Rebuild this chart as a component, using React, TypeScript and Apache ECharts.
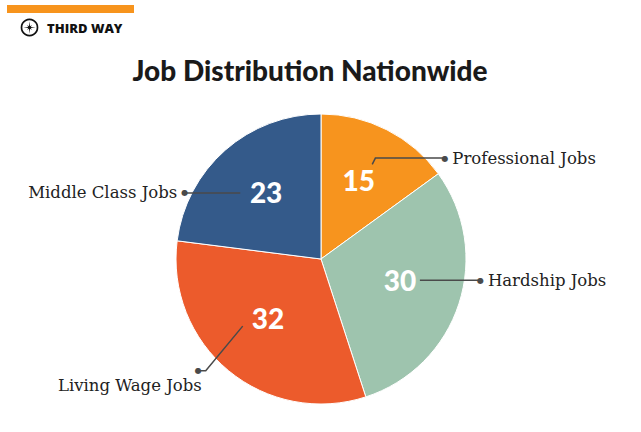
import React, { useEffect, useRef } from 'react';
import * as echarts from 'echarts';

const categories = ['Professional Jobs', 'Hardship Jobs', 'Living Wage Jobs', 'Middle Class Jobs'];
const values = [15, 30, 32, 23];
const sliceColors = ['#F7941E', '#9EC4AE', '#EC5B2C', '#345A8A'];
const titleText = 'Job Distribution Nationwide';
const brandText = 'THIRD WAY';

// leader-line styling per slice (layout only)
const leaderStyle = [
  { length: 7, length2: 69, shiftX: 4, shiftY: -2, side: 'right' },
  { length: 0, length2: 60, shiftX: 0, shiftY: -11, side: 'right' },
  { length: 58, length2: 8, shiftX: -12, shiftY: -13, side: 'below' },
  { length: 0, length2: 55, shiftX: -12, shiftY: 12, side: 'left' },
];

const CENTER = [321, 259];
const LINE_COLOR = '#4a4a4a';

export default function App() {
  const ref = useRef<HTMLDivElement>(null);

  useEffect(() => {
    document.body.style.margin = '0';
    if (!ref.current) return;
    const chart = echarts.init(ref.current, null, { renderer: 'svg' });

    const baseData = categories.map((name, i) => ({ name, value: values[i] }));

    const option: any = {
      animation: false,
      backgroundColor: '#ffffff',
      graphic: [
        { type: 'rect', shape: { x: 7, y: 5, width: 127, height: 8 }, style: { fill: '#F7941D' } },
        { type: 'circle', shape: { cx: 29.5, cy: 27.5, r: 8 }, style: { fill: 'none', stroke: '#111', lineWidth: 1.7 } },
        {
          type: 'polygon',
          shape: {
            points: (() => {
              const pts: number[][] = [];
              for (let k = 0; k < 16; k++) {
                const a = (k * Math.PI) / 8 - Math.PI / 2;
                const r = k % 4 === 0 ? 6.2 : k % 2 === 0 ? 3.4 : 1.4;
                pts.push([29.5 + r * Math.cos(a), 27.5 + r * Math.sin(a)]);
              }
              return pts;
            })(),
          },
          style: { fill: '#111' },
        },
        {
          type: 'text',
          x: 47,
          y: 28,
          style: {
            text: brandText,
            fontFamily: 'Open Sans',
            fontWeight: 800,
            fontSize: 13,
            fill: '#111',
            verticalAlign: 'middle',
          },
        },
        {
          type: 'text',
          x: 310,
          y: 70,
          style: {
            text: titleText,
            fontFamily: 'Lato',
            fontWeight: 900,
            fontSize: 28,
            fill: '#1a1a1a',
            align: 'center',
            verticalAlign: 'middle',
          },
        },
      ],
      series: [
        {
          type: 'pie',
          z: 1,
          center: CENTER,
          radius: 145,
          startAngle: 90,
          clockwise: true,
          silent: true,
          label: { show: false },
          labelLine: { show: false },
          itemStyle: { borderColor: '#ffffff', borderWidth: 1 },
          data: baseData.map((d, i) => ({ ...d, itemStyle: { color: sliceColors[i] } })),
        },
        {
          type: 'pie',
          z: 4,
          center: CENTER,
          radius: [0, 160],
          startAngle: 90,
          clockwise: true,
          silent: true,
          itemStyle: { color: 'rgba(0,0,0,0)', borderWidth: 0 },
          label: {
            show: true,
            position: 'inside',
            formatter: '{c}',
            color: '#ffffff',
            fontFamily: 'Lato',
            fontWeight: 900,
            fontSize: 28,
          },
          labelLayout: (p: any) => {
            const r = p.labelRect;
            if (!r) return {};
            return { y: r.y + r.height / 2 - 5, verticalAlign: 'middle' };
          },
          labelLine: { show: false },
          data: baseData,
        },
        {
          type: 'pie',
          z: 5,
          center: CENTER,
          radius: 104,
          startAngle: 90,
          clockwise: true,
          silent: true,
          avoidLabelOverlap: false,
          itemStyle: { color: 'rgba(0,0,0,0)', borderWidth: 0 },
          label: {
            show: true,
            position: 'outside',
            formatter: (p: any) => {
              const side = leaderStyle[p.dataIndex].side;
              if (side === 'right') return `{dot|●}{gap| }{name|${p.name}}`;
              if (side === 'left') return `{name|${p.name}}{gap| }{dot|●}`;
              return `{dot|●}\n{name|${p.name}}`;
            },
            rich: {
              dot: { fontFamily: 'DejaVu Sans', fontSize: 8, color: LINE_COLOR, lineHeight: 10 },
              gap: { fontSize: 4, width: 4 },
              name: { fontFamily: 'DejaVu Serif', fontSize: 16.5, color: '#222', lineHeight: 20 },
            },
          },
          labelLine: { show: true, smooth: false, lineStyle: { color: LINE_COLOR, width: 1.5 } },
          labelLayout: (p: any) => {
            const s = leaderStyle[p.dataIndex];
            const raw = p.labelLinePoints || [];
            if (!raw.length) return {};
            const pts = raw.map((pt: number[]) => [pt[0] + s.shiftX, pt[1] + s.shiftY]);
            const end = pts[pts.length - 1];
            if (s.side === 'right') {
              return { x: end[0] - 3, y: end[1], align: 'left', verticalAlign: 'middle', labelLinePoints: pts };
            }
            if (s.side === 'left') {
              return { x: end[0] + 3, y: end[1], align: 'right', verticalAlign: 'middle', labelLinePoints: pts };
            }
            return { x: end[0] + 4, y: end[1] - 5, align: 'right', verticalAlign: 'top', labelLinePoints: pts };
          },
          data: baseData.map((d, i) => ({
            ...d,
            labelLine: { length: leaderStyle[i].length, length2: leaderStyle[i].length2 },
          })),
        },
      ],
    };

    chart.setOption(option);
    return () => chart.dispose();
  }, []);

  return <div ref={ref} style={{ position: 'absolute', left: 0, top: 0, width: 641, height: 432 }} />;
}
